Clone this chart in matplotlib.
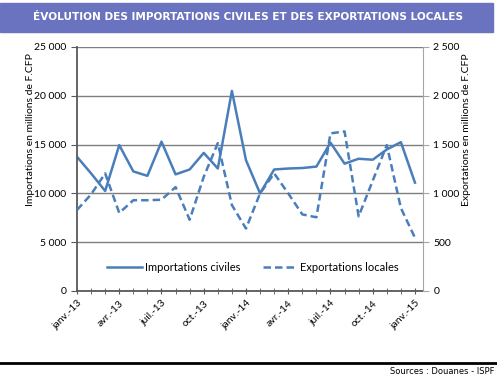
import matplotlib
matplotlib.use("Agg")
import matplotlib.pyplot as plt
from matplotlib.ticker import FuncFormatter, MultipleLocator, FixedLocator

# Monthly values, janv.-13 .. janv.-15
months = ["janv.-13", "févr.-13", "mars-13", "avr.-13", "mai-13", "juin-13",
          "juil.-13", "août-13", "sept.-13", "oct.-13", "nov.-13", "déc.-13",
          "janv.-14", "févr.-14", "mars-14", "avr.-14", "mai-14", "juin-14",
          "juil.-14", "août-14", "sept.-14", "oct.-14", "nov.-14", "déc.-14",
          "janv.-15"]
imports = [13750, 12050, 10250, 14950, 12250, 11800, 15300, 11950, 12450,
           14150, 12550, 20500, 13400, 10000, 12450, 12550, 12600, 12750,
           15200, 13050, 13550, 13450, 14500, 15250, 11100]
exports = [830, 990, 1205, 800, 930, 930, 935, 1065, 730, 1170, 1515, 880,
           640, 1000, 1205, 1000, 785, 755, 1615, 1635, 765, 1130, 1495, 850,
           545]
tick_every = 3

title = "ÉVOLUTION DES IMPORTATIONS CIVILES ET DES EXPORTATIONS LOCALES"
source = "Sources : Douanes - ISPF"

BLUE = "#4A7EBB"
FONT = "Lato"


def fmt_thousands(v, pos):
    return f"{int(v):,}".replace(",", " ")


fig = plt.figure(figsize=(4.97, 3.80), dpi=100)

# title banner
fig.patches.append(plt.Rectangle((0, 1 - 32 / 380), 493 / 497, 29 / 380,
                                 transform=fig.transFigure, color="#6A73BF",
                                 zorder=0))
fig.text(248 / 497, 1 - 17.5 / 380, title, ha="center", va="center",
         color="white", fontsize=7.6, fontweight="bold", family="DejaVu Sans")

ax = fig.add_axes([77 / 497, 89 / 380, 346 / 497, 244 / 380])
x = list(range(len(months)))
l1, = ax.plot(x, imports, color=BLUE, lw=1.8, label="Importations civiles")
ax2 = ax.twinx()
l2, = ax2.plot(x, exports, color=BLUE, lw=1.8, ls=(0, (3, 1.6)),
               label="Exportations locales")

ax.set_xlim(0, len(months) - 1 + 0.57)
ax.set_ylim(0, 25000)
ax2.set_ylim(0, 2500)
ax.yaxis.set_major_locator(MultipleLocator(5000))
ax2.yaxis.set_major_locator(MultipleLocator(500))
ax.yaxis.set_major_formatter(FuncFormatter(fmt_thousands))
ax2.yaxis.set_major_formatter(FuncFormatter(fmt_thousands))
ax.grid(axis="y", color="#7F7F7F", lw=1)
ax.set_axisbelow(True)

major = x[::tick_every]
ax.xaxis.set_major_locator(FixedLocator(major))
ax.xaxis.set_minor_locator(FixedLocator(x))
ax.set_xticklabels([months[i] for i in major], rotation=45, ha="right",
                   rotation_mode="anchor", family=FONT, fontsize=7.5)
ax.tick_params(axis="x", which="major", length=5, direction="inout",
               color="#595959", pad=3)
ax.tick_params(axis="x", which="minor", length=4, direction="inout",
               color="#595959")
ax.tick_params(axis="y", length=4, color="#595959", labelsize=7.5)
ax2.tick_params(axis="y", length=4, color="#A6A6A6", labelsize=7.5)
for lab in ax.get_yticklabels() + ax2.get_yticklabels():
    lab.set_family(FONT)

for a in (ax, ax2):
    a.spines["top"].set_visible(False)
ax.spines["left"].set_color("#595959")
ax.spines["bottom"].set_color("#595959")
ax.spines["left"].set_linewidth(1.3)
ax.spines["bottom"].set_linewidth(1.3)
ax2.spines["left"].set_visible(False)
ax2.spines["bottom"].set_visible(False)
ax2.spines["right"].set_color("#A6A6A6")
ax.spines["right"].set_visible(False)

ax.set_ylabel("Importations en millions de F.CFP", family=FONT, fontsize=7.5)
ax2.set_ylabel("Exportations en millions de F.CFP", family=FONT, fontsize=7.5)
ax.yaxis.set_label_coords(-0.121, 0.66)
ax2.yaxis.set_label_coords(1.113, 0.66)

leg = ax.legend([l1, l2], [l1.get_label(), l2.get_label()], loc="center",
                bbox_to_anchor=(0.509, 0.098), ncol=2, frameon=False,
                prop={"family": FONT, "size": 8}, handlelength=3.1,
                columnspacing=2.0, handletextpad=0.3)

# bottom rule + source
fig.add_artist(plt.Line2D([0, 1], [1 - 363 / 380] * 2, color="black", lw=2,
                          transform=fig.transFigure))
fig.text(494 / 497, 1 - 372 / 380, source, ha="right", va="center",
         fontsize=6, family="DejaVu Sans")

fig.savefig("out.png", dpi=100)
